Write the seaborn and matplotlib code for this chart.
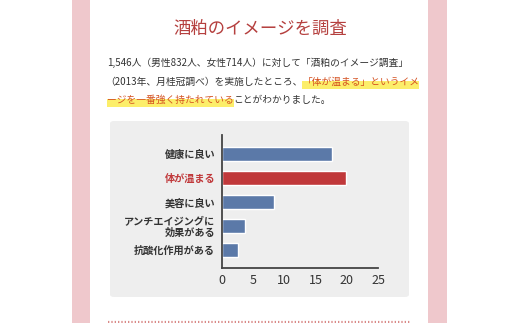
import matplotlib
matplotlib.use('Agg')
import matplotlib.pyplot as plt
import seaborn as sns
import pandas as pd
from matplotlib.patches import Rectangle, FancyBboxPatch
from matplotlib.lines import Line2D

# ---- data ----
categories = ['健康に良い', '体が温まる', '美容に良い', 'アンチエイジングに\n効果がある', '抗酸化作用がある']
values = [17.6, 19.9, 8.3, 3.7, 2.6]
highlight = '体が温まる'
xticks = [0, 5, 10, 15, 20, 25]

title = '酒粕のイメージを調査'
line1 = '1,546人（男性832人、女性714人）に対して「酒粕のイメージ調査」'
line2_plain = '（2013年、月桂冠調べ）を実施したところ、'
line2_mark = '「体が温まる」というイメ'
line3_mark = 'ージを一番強く持たれている'
line3_plain = 'ことがわかりました。'

blue = '#5b79a8'
red = '#c0383a'
text_col = '#333333'
mark_col = '#d4501f'

sns.set_theme(style='white')
plt.rcParams['font.family'] = ['Noto Sans CJK JP', 'DejaVu Sans']

W, H = 520, 323
fig = plt.figure(figsize=(5.2, 3.23), dpi=100)
fig.patch.set_facecolor('white')


def fx(px):
    return px / W


def fy(py):
    return 1 - py / H


# pink side bands
for x0, x1 in [(72, 90), (428, 447)]:
    fig.add_artist(Rectangle((fx(x0), 0), fx(x1) - fx(x0), 1, transform=fig.transFigure,
                             facecolor='#efc8cc', edgecolor='none', zorder=0))

# gray chart panel
fig.add_artist(FancyBboxPatch((fx(110), fy(297)), fx(409) - fx(110), fy(121) - fy(297),
                              boxstyle='round,pad=0,rounding_size=0.008',
                              transform=fig.transFigure, facecolor='#eeeeee',
                              edgecolor='none', zorder=0))

# dotted rule at the bottom
fig.add_artist(Line2D([fx(108), fx(410)], [fy(321.5), fy(321.5)], transform=fig.transFigure,
                      color='#d98a88', lw=1.6, linestyle=(0, (0.6, 0.9))))

# title and body text
fig.text(0.5, fy(29), title, ha='center', va='center', fontsize=12.5, color='#b5403f')
fs = 7.0
fig.text(fx(107), fy(63), line1, ha='left', va='center', fontsize=fs, color=text_col)
t2a = fig.text(fx(105), fy(82), line2_plain, ha='left', va='center', fontsize=fs, color=text_col)
renderer = fig.canvas.get_renderer()
bb = t2a.get_window_extent(renderer)
t2b = fig.text(bb.x1 / W, fy(82), line2_mark, ha='left', va='center', fontsize=fs, color=mark_col, zorder=3)
t3a = fig.text(fx(107), fy(100), line3_mark, ha='left', va='center', fontsize=fs, color=mark_col, zorder=3)
bb3 = t3a.get_window_extent(renderer)
fig.text(bb3.x1 / W, fy(100), line3_plain, ha='left', va='center', fontsize=fs, color=text_col)

# yellow marker under the highlighted phrases
for t, yc in [(t2b, 82), (t3a, 100)]:
    b = t.get_window_extent(renderer)
    fig.add_artist(Rectangle((b.x0 / W, fy(yc + 7)), (b.x1 - b.x0) / W, 8 / H,
                             transform=fig.transFigure, facecolor='#fcee6a',
                             edgecolor='none', zorder=2))

# bar chart
ax = fig.add_axes([fx(222), fy(268), (378 - 222) / W, (268 - 135) / H])
ax.patch.set_alpha(0)
df = pd.DataFrame({'cat': categories, 'val': values})
palette = {c: (red if c == highlight else blue) for c in categories}
sns.barplot(data=df, x='val', y='cat', hue='cat', palette=palette, order=categories,
            width=0.58, saturation=1, legend=False, ax=ax)

ax.set_xlim(0, 25)
ax.set_ylim(4.75, -0.8)
ax.set_xticks(xticks)
ax.set_xlabel('')
ax.set_ylabel('')
for s in ['top', 'right']:
    ax.spines[s].set_visible(False)
for s in ['left', 'bottom']:
    ax.spines[s].set_color('#444444')
    ax.spines[s].set_linewidth(1.3)
ax.tick_params(axis='x', length=0, pad=4, labelsize=9, labelcolor=text_col)
ax.tick_params(axis='y', length=0, pad=5, labelsize=7.3)
for lab in ax.get_yticklabels():
    lab.set_fontweight('bold')
    lab.set_color(red if lab.get_text() == highlight else text_col)
    lab.set_linespacing(1.15)

fig.savefig('out.png', dpi=100)
